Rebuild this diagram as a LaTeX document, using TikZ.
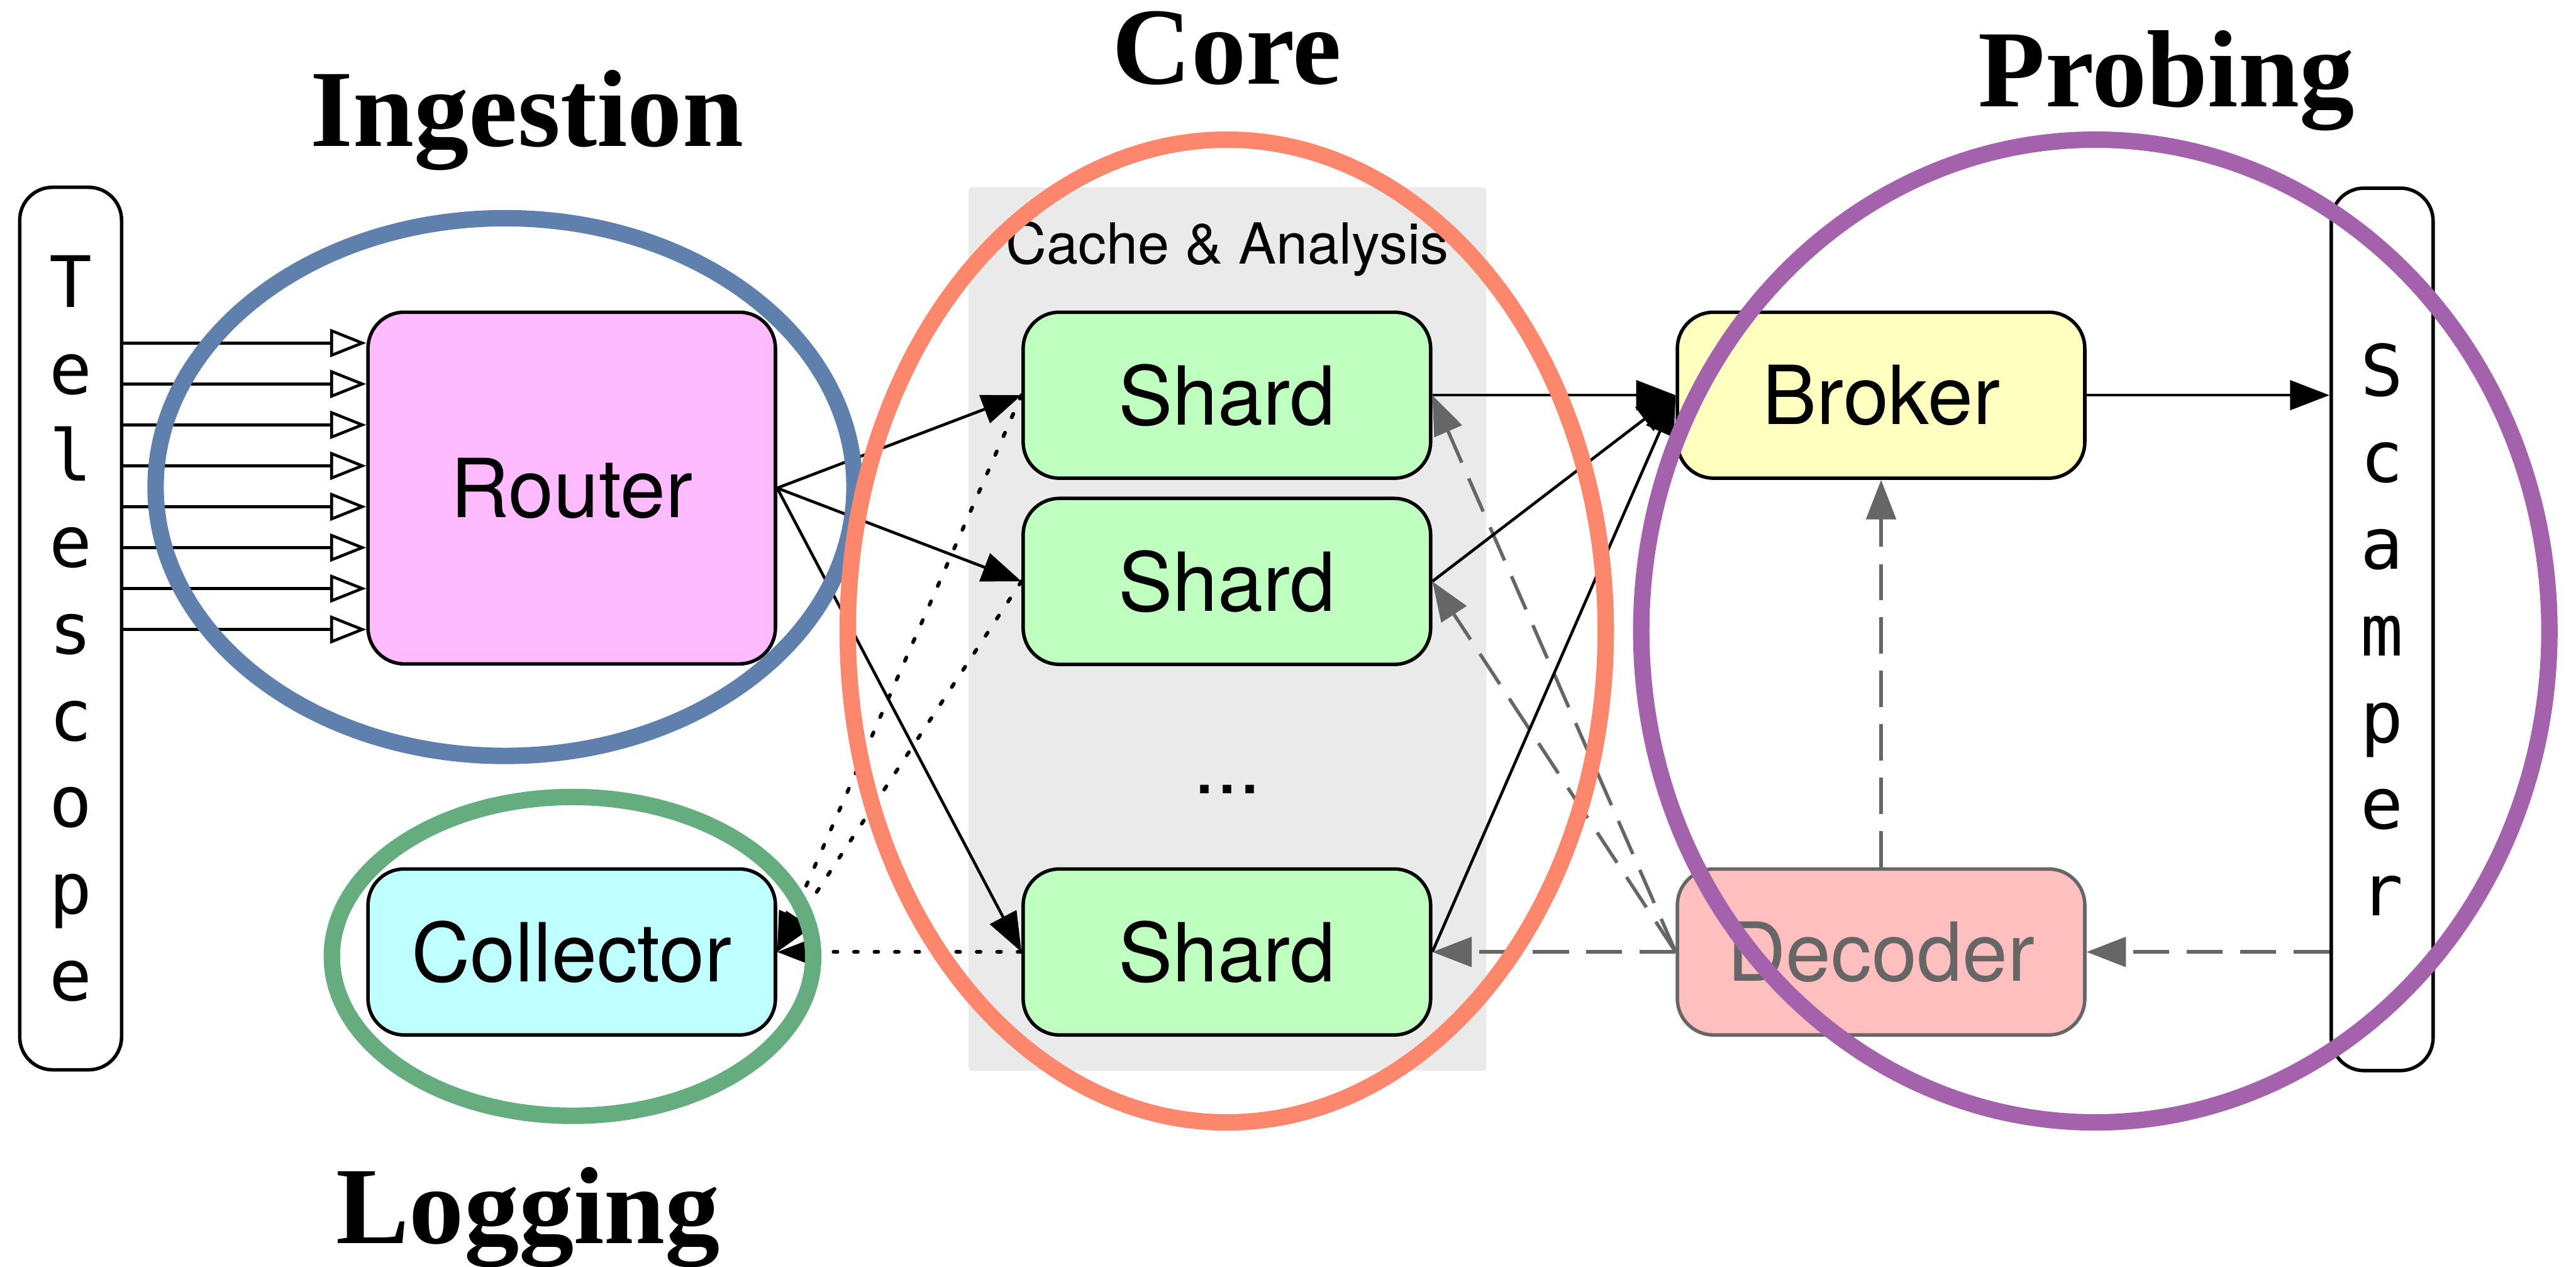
\documentclass[tikz,border=0pt]{standalone}
\usepackage{fontspec}
\setmainfont{TeX Gyre Heros}
\setmonofont{DejaVu Sans Mono}
\newfontfamily\headfont{Liberation Serif}
\usetikzlibrary{arrows.meta}

\definecolor{routerpink}{HTML}{FFBBFF}
\definecolor{collcyan}{HTML}{BFFFFF}
\definecolor{shardgreen}{HTML}{BFFFBF}
\definecolor{brokeryellow}{HTML}{FFFFBF}
\definecolor{decoderpink}{HTML}{FFBFBF}
\definecolor{cachegrey}{HTML}{EAEAEA}
\definecolor{darkgrey}{HTML}{666666}
\definecolor{ingestblue}{HTML}{5F7FAD}
\definecolor{loggreen}{HTML}{65AC7E}
\definecolor{coreorange}{HTML}{FC876C}
\definecolor{probepurple}{HTML}{A461AC}

\begin{document}
\begin{tikzpicture}[
	every node/.style={font=\fontsize{14.1}{17}\selectfont},
	box/.style={draw, line width=0.6pt, rounded corners=0.22cm, minimum width=2.48cm, minimum height=1.01cm, inner sep=0pt},
	pillar/.style={draw, line width=0.6pt, rounded corners=0.2cm, minimum width=0.62cm, minimum height=5.37cm, inner sep=0pt, align=center, font=\ttfamily\fontsize{12.3}{15}\selectfont},
	flow/.style={line width=0.5pt, -{Triangle[length=0.24cm, width=0.18cm]}},
	feed/.style={line width=0.5pt, -{Triangle[open, length=0.22cm, width=0.17cm]}},
	reply/.style={darkgrey, line width=0.6pt, dash pattern=on 0.22cm off 0.105cm, -{Triangle[length=0.24cm, width=0.18cm]}},
	logline/.style={line width=0.65pt, line cap=round, dash pattern=on 0.023cm off 0.1015cm, -{Triangle[length=0.24cm, width=0.18cm]}},
	ring/.style={line width=0.1cm},
	heading/.style={font=\headfont\bfseries\fontsize{19}{19}\selectfont, anchor=base, inner sep=0pt}
]
	\fill[white] (0,0) rectangle (15.68,7.708);
	\useasboundingbox (0,0) rectangle (15.68,7.708);

	% shard area
	\node[fill=cachegrey, rounded corners=0.02cm, minimum width=3.152cm, minimum height=5.376cm] (cache) at (7.471,3.88) {};
	\node[font=\fontsize{9.8}{12}\selectfont, anchor=base, inner sep=0pt] (cachelabel) at (7.47,6.10) {Cache \& Analysis};

	% boxes
	\node[pillar] (tel) at (0.43,3.883) {T\\e\\l\\e\\s\\c\\o\\p\\e};
	\node[box, fill=routerpink, minimum height=2.14cm] (router) at (3.48,4.738) {Router};
	\node[box, fill=collcyan] (collector) at (3.48,1.915) {Collector};
	\node[box, fill=shardgreen] (shard1) at (7.468,5.303) {Shard};
	\node[box, fill=shardgreen] (shard2) at (7.468,4.17) {Shard};
	\node[anchor=base, inner sep=0pt] (more) at (7.47,2.878) {...};
	\node[box, fill=shardgreen] (shard3) at (7.468,1.915) {Shard};
	\node[box, fill=brokeryellow] (broker) at (11.45,5.303) {Broker};
	\node[box, fill=decoderpink, draw=darkgrey, text=darkgrey] (decoder) at (11.45,1.915) {Decoder};
	\node[pillar] (scamper) at (14.50,3.878) {S\\c\\a\\m\\p\\e\\r};

	% telescope feeds
	\foreach \k in {0,...,7}{
		\pgfmathsetmacro{\dy}{(3.5-\k)*0.249+0.011}
		\coordinate (in\k) at ([yshift=\dy cm]router.west);
		\draw[feed] (in\k -| tel.east) -- (in\k);
	}

	% links
	\foreach \i in {1,2,3}{
		\draw[flow] (router.east) -- (shard\i.west);
		\draw[flow] (shard\i.east) -- (broker.west);
		\draw[logline] (shard\i.west) -- (collector.east);
		\draw[reply] (decoder.west) -- (shard\i.east);
	}
	\draw[flow] (broker.east) -- (broker.east -| scamper.west);
	\draw[reply] (decoder.east -| scamper.west) -- (decoder.east);
	\draw[reply] (decoder.north) -- (broker.south);

	% groups
	\draw[ring, ingestblue] (3.074,4.744) ellipse [x radius=2.127cm, y radius=1.636cm];
	\draw[ring, loggreen] (3.485,1.888) ellipse [x radius=1.465cm, y radius=0.97cm];
	\draw[ring, coreorange] (7.467,3.868) ellipse [x radius=2.307cm, y radius=2.99cm];
	\draw[ring, probepurple] (12.754,3.868) ellipse [x radius=2.764cm, y radius=2.99cm];

	\node[heading] (ingestion) at (3.208,6.818) {Ingestion};
	\node[heading] (core) at (7.467,7.196) {Core};
	\node[heading] (probing) at (13.186,7.059) {Probing};
	\node[heading] (logging) at (3.215,0.143) {Logging};
\end{tikzpicture}
\end{document}
